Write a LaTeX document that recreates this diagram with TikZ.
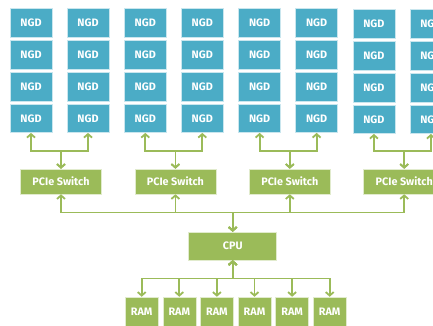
\documentclass[tikz,border=0pt]{standalone}
\usepackage{fontspec}
\setmainfont{Fira Sans}
\usetikzlibrary{arrows.meta}
\definecolor{ngdblue}{HTML}{4BACC6}
\definecolor{boardgreen}{HTML}{9BBB59}
\tikzset{
    box/.style={inner sep=0pt,text=white,font=\bfseries\fontsize{10.8}{12}\selectfont},
    ngd/.style={box,fill=ngdblue,draw=white!70!ngdblue,line width=0.5pt,minimum width=42pt,minimum height=28.5pt},
    greenbox/.style={box,fill=boardgreen,draw=white!70!boardgreen,line width=0.5pt},
    link/.style={draw=boardgreen,line width=1.8pt},
    both/.style={{Straight Barb[length=3.5pt,width=8pt]}-{Straight Barb[length=3.5pt,width=8pt]}},
}

\begin{document}
\begin{tikzpicture}[x=1pt,y=-1pt]
    \clip (0,0) rectangle (433,326);
    \fill[white] (0,0) rectangle (433,326);
    \foreach \g/\dy in {1/0,2/0,3/0,4/1} {
        \foreach \r in {1,...,4} {
            \node[ngd] (ngd-\g-a-\r) at ({31+114.3*(\g-1)},{23+\dy+31.8*(\r-1)}) {NGD};
            \node[ngd] (ngd-\g-b-\r) at ({88+114.3*(\g-1)},{23+\dy+31.8*(\r-1)}) {NGD};
        }
        \node[greenbox,minimum width=81pt,minimum height=25pt] (sw-\g) at ({61+114.4*(\g-1)},181.5) {PCIe Switch};
    }
    \node[greenbox,minimum width=88pt,minimum height=28pt] (cpu) at (232.7,246) {CPU};
    \foreach \k in {1,...,6} {
        \node[greenbox,minimum width=33pt,minimum height=30pt] (ram-\k) at ({141.7+37.6*(\k-1)},312) {RAM};
    }
    \foreach \g in {1,...,4} {
        \draw[link,both] (sw-\g.north) -- ++(0,-18) -| (ngd-\g-a-4.south);
        \draw[link,both] (sw-\g.north) -- ++(0,-18) -| (ngd-\g-b-4.south);
        \draw[link,both] (cpu.north) -- ++(0,-19.3) -| (sw-\g.south);
    }
    \foreach \k in {1,...,6} {
        \draw[link,both] (cpu.south) -- ++(0,18.3) -| (ram-\k.north);
    }
\end{tikzpicture}
\end{document}
